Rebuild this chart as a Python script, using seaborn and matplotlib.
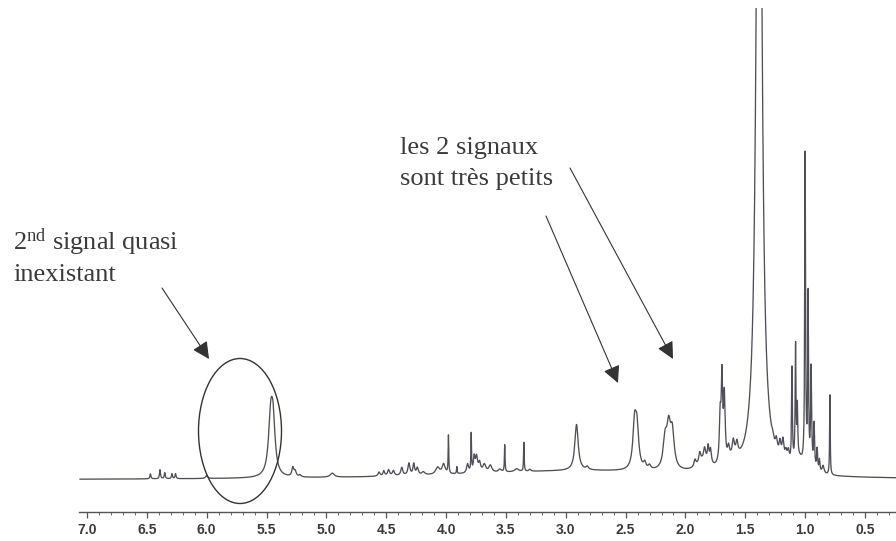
import numpy as np
import pandas as pd
import matplotlib
matplotlib.use("Agg")
import matplotlib.pyplot as plt
from matplotlib.patches import Ellipse
from matplotlib.transforms import IdentityTransform
import seaborn as sns

# ---- data (ppm, amplitude in px above baseline, half width in ppm)
peak_ppm = [6.47, 6.39, 6.35, 6.29, 6.26, 6.00,
            5.465, 5.445, 5.28, 5.26, 5.22, 4.95,
            4.56, 4.52, 4.48, 4.44, 4.37, 4.31, 4.27, 4.24, 4.19, 4.07, 4.02,
            3.98, 3.91, 3.82, 3.79, 3.765, 3.745, 3.72, 3.68, 3.63, 3.55, 3.51, 3.41, 3.35, 3.30,
            2.91, 2.82, 2.425, 2.405, 2.34, 2.30, 2.17, 2.14, 2.11,
            1.92, 1.88, 1.84, 1.81, 1.79, 1.71, 1.695, 1.675, 1.64, 1.60, 1.57,
            1.385, 1.27, 1.24, 1.21, 1.185, 1.16, 1.14, 1.11, 1.08, 1.065,
            1.00, 0.975, 0.95, 0.925, 0.90, 0.88, 0.85, 0.793,
            2.9, 1.85, 1.6, 1.05]
peak_height = [5, 9, 6, 5, 5, 3,
               55, 45, 9, 5, 2, 4,
               4, 5, 6, 5, 8, 12, 11, 7, 3, 7, 10,
               38, 7, 9, 38, 15, 15, 9, 8, 7, 3, 27, 3, 29, 2,
               46, 3, 43, 38, 6, 4, 28, 38, 35,
               7, 10, 12, 16, 14, 45, 82, 65, 12, 14, 12,
               1000, 5, 12, 15, 20, 10, 12, 95, 115, 50,
               312, 170, 100, 45, 22, 12, 8, 80,
               9, 10, 8, 12]
peak_hwhm = [0.005, 0.005, 0.005, 0.005, 0.005, 0.01,
             0.022, 0.02, 0.01, 0.01, 0.01, 0.02,
             0.01, 0.008, 0.01, 0.01, 0.01, 0.01, 0.008, 0.01, 0.015, 0.02, 0.015,
             0.003, 0.003, 0.01, 0.003, 0.008, 0.01, 0.01, 0.015, 0.015, 0.015, 0.003, 0.02, 0.003, 0.01,
             0.017, 0.012, 0.017, 0.017, 0.012, 0.012, 0.019, 0.019, 0.019,
             0.01, 0.01, 0.01, 0.008, 0.008, 0.008, 0.007, 0.008, 0.01, 0.01, 0.01,
             0.023, 0.01, 0.01, 0.01, 0.01, 0.01, 0.01, 0.004, 0.004, 0.004,
             0.004, 0.004, 0.005, 0.005, 0.005, 0.005, 0.01, 0.003,
             1.3, 0.06, 0.05, 0.04]

tick_values = [7.0, 6.5, 6.0, 5.5, 5.0, 4.5, 4.0, 3.5, 3.0, 2.5, 2.0, 1.5, 1.0, 0.5]
tick_labels = ["7.0", "6.5", "6.0", "5.5", "5.0", "4.5", "4.0", "3.5", "3.0", "2.5", "2.0", "1.5", "1.0", "0.5"]

ppm_start, ppm_end = 7.06, 0.241

# ---- build the spectrum from the peak list
ppm = np.arange(ppm_end, ppm_start, 0.0004)
inten = np.zeros_like(ppm)
for c, h, w in zip(peak_ppm, peak_height, peak_hwhm):
    inten += h / (1.0 + ((ppm - c) / w) ** 2)
df = pd.DataFrame({"ppm": ppm, "intensity": inten})

# ---- figure
sns.set_style("white")
plt.rcParams["mathtext.fontset"] = "custom"
plt.rcParams["mathtext.rm"] = "Liberation Serif"
plt.rcParams["mathtext.it"] = "Liberation Serif:italic"

W, H = 896, 541
fig = plt.figure(figsize=(W / 100, H / 100), dpi=100)
ax_left, ax_right, ax_top, ax_bottom = 79, 896, 8, 512
ax = fig.add_axes([ax_left / W, (H - ax_bottom) / H, (ax_right - ax_left) / W, (ax_bottom - ax_top) / H])

sns.lineplot(data=df, x="ppm", y="intensity", ax=ax, color="#4f4f5a", linewidth=0.95,
             estimator=None, sort=False)

base_px = 480
ax.set_ylim(-(ax_bottom - base_px), base_px - ax_top)
px_per_ppm = (865 - 87) / 6.5
ax.set_xlim(7.0 + (87 - ax_left) / px_per_ppm, 7.0 - (ax_right - 87) / px_per_ppm)

for s in ["top", "left", "right"]:
    ax.spines[s].set_visible(False)
ax.spines["bottom"].set_color("#555555")
ax.spines["bottom"].set_linewidth(1.0)
ax.set_yticks([])
ax.set_xticks(tick_values)
ax.set_xticklabels(tick_labels, fontfamily="Liberation Sans", fontweight="bold",
                   fontsize=10, color="#3a3a3a")
ax.set_xticks(np.arange(0.3, 7.05, 0.1), minor=True)
ax.tick_params(axis="x", which="major", direction="out", length=4, width=0.9,
               color="#555555", pad=4, bottom=True)
ax.tick_params(axis="x", which="minor", direction="out", length=2, width=0.7,
               color="#666666", bottom=True)
ax.set_xlabel("")
ax.set_ylabel("")
ax.patch.set_alpha(0)


def fpx(x, y):
    return (x, H - y)


txt_kw = dict(fontfamily="Liberation Serif", fontsize=19, color="#3a3a3a", va="baseline", ha="left")
fig.text(13 / W, 1 - 250 / H, r"2$^{\rm nd}$ signal quasi", **txt_kw)
fig.text(13 / W, 1 - 281 / H, "inexistant", **txt_kw)
fig.text(400 / W, 1 - 154 / H, "les 2 signaux", **txt_kw)
fig.text(400 / W, 1 - 185 / H, "sont très petits", **txt_kw)

arrow_kw = dict(arrowstyle="-|>,head_length=0.8,head_width=0.4", mutation_scale=13,
                lw=0.8, color="#333333", shrinkA=0, shrinkB=0)
for (x0, y0), (x1, y1) in [((162, 288), (209, 359)), ((546, 216), (618, 383)), ((570, 168), (673, 359))]:
    ax.annotate("", xy=fpx(x1, y1), xycoords="figure pixels",
                xytext=fpx(x0, y0), textcoords="figure pixels", arrowprops=arrow_kw,
                annotation_clip=False)

ell = Ellipse(fpx(240, 431), 83, 145, fill=False, edgecolor="#333333", linewidth=1.0,
              transform=IdentityTransform())
fig.add_artist(ell)

fig.savefig("out.png", dpi=100)
